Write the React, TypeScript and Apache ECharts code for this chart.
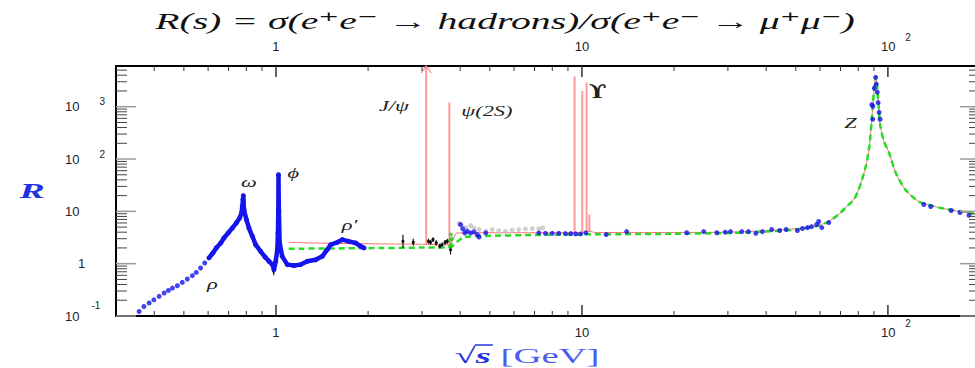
import { useEffect, useRef } from "react";
import * as echarts from "echarts";

// Axis ranges (√s in GeV, R dimensionless)
const X_MIN = 0.3;
const X_MAX = 200;
const Y_MIN = 0.1;
const Y_MAX = 6000;

// Tick layout: decades and the in-between multiples
const X_DECADES = [0.1, 1, 10, 100];
const Y_DECADES = [0.1, 1, 10, 100, 1000];
const MINOR_MULT = [2, 3, 4, 5, 6, 7, 8, 9];

// ρ tail below 0.6 GeV, sparse points
const RHO_TAIL: number[][] = [
  [0.357, 0.122], [0.37, 0.152], [0.385, 0.177], [0.399, 0.204], [0.415, 0.237],
  [0.431, 0.275], [0.445, 0.308], [0.459, 0.342], [0.476, 0.379], [0.494, 0.439],
  [0.513, 0.509], [0.533, 0.589], [0.549, 0.681], [0.567, 0.827], [0.585, 1.03],
];

// ρ/ω peak, φ peak and ρ′ region, densely measured
const LOW_DENSE: number[][] = [
  [0.604, 1.29], [0.622, 1.6], [0.638, 2.0], [0.66, 2.49], [0.676, 3.1], [0.698, 3.87],
  [0.72, 4.8], [0.742, 6.0], [0.761, 7.5], [0.772, 9.4], [0.776, 12.5], [0.78, 16.8],
  [0.782, 20], [0.786, 10.8], [0.8, 7.0], [0.816, 4.8], [0.837, 3.34], [0.858, 2.31],
  [0.891, 1.72], [0.921, 1.34], [0.949, 1.11], [0.973, 0.96], [0.985, 0.77], [0.998, 1.11],
  [1.01, 1.85], [1.015, 3.87], [1.018, 10.8], [1.019, 50], [1.022, 10], [1.028, 2.49],
  [1.048, 1.38], [1.089, 0.96], [1.145, 0.92], [1.204, 0.96], [1.266, 1.11], [1.348, 1.19],
  [1.417, 1.38], [1.47, 1.85], [1.51, 2.31], [1.586, 2.56], [1.647, 2.88], [1.73, 2.67],
  [1.82, 2.49], [1.89, 2.15], [1.94, 2.0],
];

// Inclusive measurements between open charm threshold and the b region
const GRAY_PTS: number[][] = [
  [3.97, 5.84], [4.06, 5.18], [4.18, 4.82], [4.33, 5.34], [4.44, 4.82], [4.61, 4.48],
  [4.85, 4.15], [5.09, 4.48], [5.35, 4.28], [5.62, 4.15], [5.91, 4.35], [6.22, 4.48],
  [6.54, 4.62], [6.88, 4.68], [7.23, 4.68], [7.45, 4.82],
];

const BLUE_MID: number[][] = [
  [4.01, 5.6], [4.08, 4.62], [4.14, 3.87], [4.22, 4.15], [4.33, 3.87], [4.44, 4.05],
  [4.55, 3.6], [4.61, 3.24], [4.85, 3.87], [7.23, 3.87], [7.6, 3.8], [8.0, 3.8],
  [8.4, 3.8], [8.83, 3.75], [9.2, 3.75], [9.54, 3.7], [9.9, 3.7], [10.3, 3.87],
];

// High-energy measurements up to and beyond the Z pole
const BLUE_HIGH: number[][] = [
  [12.0, 3.6], [14.0, 4.1], [22.0, 3.9], [25.0, 4.1], [27.6, 3.9], [29.4, 4.0],
  [30.6, 4.1], [33.3, 4.1], [35.0, 4.1], [37.0, 3.8], [38.9, 4.1], [41.7, 4.5],
  [44.3, 4.3], [46.5, 4.5], [50.6, 4.3], [52.6, 4.7], [54.6, 4.9], [56.3, 5.1],
  [58.5, 5.6], [59.4, 6.4], [60.8, 4.9], [64.1, 6.1],
  [88.6, 1100], [89.2, 575], [89.3, 1020], [90.3, 2250], [91.2, 3650], [91.6, 2700],
  [92.3, 1900], [92.9, 1200], [93.6, 780], [94.3, 575],
  [131, 13.5], [138, 12.4], [161, 10.4], [172, 9.5], [184, 8.4],
];

// Points with error bars: [√s, R, low, high]
const BLACK_PTS: number[][] = [
  [0.983, 0.72, 0.6, 0.8],
  [2.6, 2.68, 2.0, 3.56], [2.81, 2.56, 2.2, 3.0], [3.15, 2.68, 2.4, 3.0], [3.2, 2.56, 2.3, 2.85],
  [3.26, 2.88, 2.6, 3.2], [3.34, 2.49, 2.2, 2.8], [3.43, 2.15, 1.95, 2.4], [3.49, 2.31, 2.1, 2.55],
  [3.57, 2.56, 2.3, 2.85], [3.63, 2.68, 2.4, 3.0], [3.72, 1.85, 1.5, 2.2],
];

const GREEN_PTS: number[][] = [
  [3.7, 2.1], [3.71, 2.8], [3.73, 3.6], [3.74, 2.3], [3.76, 3.0],
];

// Z line shape shared by both model curves
const Z_SHAPE: number[][] = [
  [60, 5.4], [64, 6.4], [69, 8.7], [73, 12], [77.5, 17], [80, 25], [82.4, 41], [85, 80],
  [87, 175], [88.6, 575], [89.3, 1100], [90.3, 2400], [91.2, 3700], [91.9, 3000],
  [92.8, 1500], [93.6, 800], [94.3, 450], [97, 220], [100.8, 133], [106, 55], [114, 26],
  [126, 15.5], [147, 11.8], [180, 9.5], [200, 8.8],
];

// Continuum with resonances (red) below the Z
const RED_CONT: number[][] = [
  [1.1, 2.55], [1.5, 2.45], [2.0, 2.4], [3.0, 2.35], [3.6, 2.3], [3.72, 2.35], [3.8, 3.0],
  [3.9, 3.85], [5, 3.9], [9, 3.9], [10, 3.95], [10.58, 4.2], [11, 3.95], [15, 3.95],
  [20, 3.95], [30, 4.0], [40, 4.25], [50, 4.65], [55, 5.0], [60, 5.5],
];

// Naive quark-parton model (green) below the Z
const GREEN_QCD: number[][] = [
  [1.1, 1.93], [2, 1.98], [3, 2.03], [3.6, 2.05], [3.75, 2.1], [3.9, 2.6], [4.1, 3.2],
  [4.5, 3.35], [5, 3.4], [7, 3.55], [10, 3.63], [15, 3.68], [20, 3.72], [30, 3.85],
  [40, 4.1], [50, 4.5], [55, 4.9],
];

// Narrow resonances: J/ψ, ψ(2S), Υ(1S), Υ(2S), Υ(3S), Υ(4S)
const SPIKE_M = [3.097, 3.686, 9.46, 10.023, 10.355, 10.58];
const SPIKE_BASE = [2.3, 2.3, 3.9, 3.95, 3.95, 4.0];
const SPIKE_TOP = [20000, 1200, 3800, 2000, 2900, 8.7];

// Resonance names
const ANNOT_TEXT = ["ρ", "ω", "ϕ", "ρ′", "J/ψ", "ψ(2S)", "ϒ", "Z"];
const ANNOT_X = [0.62, 0.816, 1.14, 1.74, 2.43, 4.89, 11.25, 75.4];
const ANNOT_R = [0.405, 36, 53, 5.35, 1018, 816, 1930, 481];

const TITLE = "R(s) = σ(e⁺e⁻ → hadrons)/σ(e⁺e⁻ → μ⁺μ⁻)";

const SANS = '"Liberation Sans", Arial, sans-serif';
const SERIF = '"Liberation Serif", "DejaVu Serif", serif';
const BLUE = "#1414ee";

function decadeOf(v: number): number | null {
  const l = Math.log10(v);
  const e = Math.round(l);
  return Math.abs(l - e) < 1e-6 ? e : null;
}

function measure(text: string, font: string): number {
  const ctx = document.createElement("canvas").getContext("2d");
  if (!ctx) return text.length * 10;
  ctx.font = font;
  return ctx.measureText(text).width;
}

function buildTicks() {
  const items: number[][] = [];
  const inX = (v: number) => v > X_MIN * 1.0001 && v < X_MAX * 0.9999;
  const inY = (v: number) => v >= Y_MIN * 0.9999 && v < Y_MAX * 0.9999;
  X_DECADES.forEach((d) => {
    if (inX(d)) items.push([d, Y_MIN, 0, 1]);
    MINOR_MULT.forEach((m) => {
      const v = d * m;
      if (inX(v)) items.push([v, Y_MIN, 0, 0]);
    });
  });
  Y_DECADES.forEach((d) => {
    if (inY(d)) items.push([X_MIN, d, 1, 1]);
    MINOR_MULT.forEach((m) => {
      const v = d * m;
      if (inY(v)) items.push([X_MIN, v, 1, 0]);
    });
  });
  return items;
}

export default function App() {
  const ref = useRef<HTMLDivElement>(null);

  useEffect(() => {
    if (!ref.current) return;
    const chart = echarts.init(ref.current, undefined, { renderer: "svg" });

    const titleFont = `italic 23px ${SERIF}`;
    const titleScale = 700 / measure(TITLE, titleFont);

    // axis title "√s [GeV]" — stretched to its slot, with a vinculum over s
    const qFont = `bold 22px ${SERIF}`;
    const vFont = `italic bold 22px ${SERIF}`;
    const uFont = `22px ${SERIF}`;
    const wq = measure("√", qFont);
    const wv = measure("s", vFont);
    const wu = measure(" [GeV]", uFont);
    const nameScale = 145 / (wq + wv + wu);
    const nameLeft = 527 - 72.5;
    const barX1 = nameLeft + wq * nameScale - 1;
    const barX2 = nameLeft + (wq + wv) * nameScale + 2;

    const xLabel = (v: number) => {
      const e = decadeOf(v);
      if (e === null) return "";
      if (e === 0) return "{b|1}";
      if (e === 1) return "{b|10}";
      return `{bp|10}{s|${e}}`;
    };
    const yLabel = (v: number) => {
      const e = decadeOf(v);
      if (e === null) return "";
      if (e === 0) return "{one|1}";
      if (e === 1) return "{b|10}";
      if (e < 0) return `{b|10}{neg|${e}}`;
      return `{b|10}{s|${e}}`;
    };
    const baseLbl = { fontFamily: SANS, fontSize: 13, color: "#222", lineHeight: 30 };
    const supLbl = { fontFamily: SANS, fontSize: 10, color: "#222", lineHeight: 11 };
    const xRich = {
      b: baseLbl,
      bp: { ...baseLbl, padding: [0, 0, 0, 16] },
      s: { ...supLbl, padding: [0, 0, 18, 10] },
    };
    const yRich = {
      b: baseLbl,
      one: { ...baseLbl, padding: [0, 0, 0, 13] },
      s: { ...supLbl, padding: [0, 0, 10, 20] },
      neg: { ...supLbl, padding: [0, 0, 22, 12] },
    };

    const logX = {
      type: "log" as const,
      logBase: 10,
      min: X_MIN,
      max: X_MAX,
      axisLine: { show: false },
      axisTick: { show: false },
      splitLine: { show: false },
    };

    const option: any = {
      animation: false,
      backgroundColor: "#fff",
      grid: {
        left: 116,
        top: 66,
        width: 864,
        height: 250,
        show: true,
        borderColor: "#000",
        borderWidth: 2,
        backgroundColor: "transparent",
        containLabel: false,
        outerBoundsMode: "none",
      },
      xAxis: [
        {
          ...logX,
          position: "bottom",
          axisLabel: { formatter: xLabel, rich: xRich, margin: 1 },
        },
        {
          ...logX,
          position: "top",
          axisLabel: { formatter: xLabel, rich: xRich, margin: 5 },
        },
      ],
      yAxis: {
        type: "log",
        logBase: 10,
        min: Y_MIN,
        max: Y_MAX,
        axisLine: { show: false },
        axisTick: { show: false },
        splitLine: { show: false },
        axisLabel: { formatter: yLabel, rich: yRich, margin: 51, align: "left" },
      },
      graphic: [
        {
          type: "text",
          x: 505,
          y: 21,
          scaleX: titleScale,
          style: {
            text: TITLE,
            font: titleFont,
            fill: "#111",
            align: "center",
            verticalAlign: "middle",
          },
        },
        {
          type: "text",
          x: 32,
          y: 191,
          scaleX: 1.8,
          style: {
            text: "R",
            fontFamily: SERIF,
            fontSize: 21,
            fontStyle: "italic",
            fontWeight: "bold",
            fill: "#2233dd",
            align: "center",
            verticalAlign: "middle",
          },
        },
        {
          type: "text",
          x: 527,
          y: 356,
          scaleX: nameScale,
          style: {
            text: "{q|√}{v|s}{u| [GeV]}",
            align: "center",
            verticalAlign: "middle",
            rich: {
              q: { fontFamily: SERIF, fontSize: 22, fontWeight: "bold", fill: "#2233dd" },
              v: { fontFamily: SERIF, fontSize: 22, fontStyle: "italic", fontWeight: "bold", fill: "#2233dd" },
              u: { fontFamily: SERIF, fontSize: 22, fill: "#4a5cf0" },
            },
          },
        },
        {
          type: "line",
          shape: { x1: barX1, y1: 345, x2: barX2, y2: 345 },
          style: { stroke: "#2233dd", lineWidth: 1.5 },
        },
      ],
      series: [
        {
          name: "continuum",
          type: "line",
          data: RED_CONT.concat(Z_SHAPE),
          symbol: "none",
          smooth: 0.2,
          lineStyle: { color: "#ff6f6f", width: 1 },
          z: 2,
        },
        {
          name: "resonances",
          type: "custom",
          data: SPIKE_M.map((m, i) => [m, SPIKE_BASE[i], SPIKE_TOP[i]]),
          encode: { x: 0, y: [1, 2] },
          z: 2,
          renderItem: (_p: any, api: any) => {
            const m = api.value(0);
            const top = api.value(2);
            const p0 = api.coord([m, api.value(1)]);
            const p1 = api.coord([m, Math.min(top, Y_MAX)]);
            const children: any[] = [
              {
                type: "line",
                shape: { x1: p0[0], y1: p0[1], x2: p1[0], y2: p1[1] },
                style: { stroke: "#ff9a9a", lineWidth: 2 },
              },
            ];
            if (top > Y_MAX) {
              children.push({
                type: "polyline",
                shape: { points: [[p1[0] - 5, p1[1] + 7], [p1[0], p1[1]], [p1[0] + 5, p1[1] + 7]] },
                style: { stroke: "#ff8080", lineWidth: 1.2, fill: "none" },
              });
            }
            return { type: "group", children };
          },
        },
        {
          name: "gray",
          type: "scatter",
          data: GRAY_PTS,
          symbolSize: 5,
          itemStyle: { color: "#c4c4c4" },
          z: 3,
        },
        {
          name: "parton model",
          type: "line",
          data: GREEN_QCD.concat(Z_SHAPE),
          symbol: "none",
          smooth: 0.2,
          lineStyle: { color: "#22dd22", width: 2.5, type: [6, 4] },
          z: 4,
        },
        {
          name: "errors",
          type: "custom",
          data: BLACK_PTS,
          encode: { x: 0, y: [1, 2, 3] },
          z: 5,
          renderItem: (_p: any, api: any) => {
            const x = api.value(0);
            const c = api.coord([x, api.value(1)]);
            const lo = api.coord([x, api.value(2)]);
            const hi = api.coord([x, api.value(3)]);
            return {
              type: "group",
              children: [
                { type: "line", shape: { x1: lo[0], y1: lo[1], x2: hi[0], y2: hi[1] }, style: { stroke: "#111", lineWidth: 1.2 } },
                { type: "circle", shape: { cx: c[0], cy: c[1], r: 1.6 }, style: { fill: "#111" } },
              ],
            };
          },
        },
        {
          name: "low dense",
          type: "line",
          data: LOW_DENSE,
          symbol: "circle",
          symbolSize: 5,
          showSymbol: true,
          itemStyle: { color: BLUE },
          lineStyle: { color: BLUE, width: 4.5 },
          z: 6,
        },
        {
          name: "rho tail",
          type: "scatter",
          data: RHO_TAIL,
          symbolSize: 5,
          itemStyle: { color: BLUE },
          z: 6,
        },
        {
          name: "mid",
          type: "scatter",
          data: BLUE_MID,
          symbolSize: 5,
          itemStyle: { color: BLUE },
          z: 6,
        },
        {
          name: "high",
          type: "scatter",
          data: BLUE_HIGH,
          symbolSize: 5,
          itemStyle: { color: BLUE },
          z: 6,
        },
        {
          name: "green pts",
          type: "scatter",
          data: GREEN_PTS,
          symbolSize: 4,
          itemStyle: { color: "#22cc22" },
          z: 6,
        },
        {
          name: "labels",
          type: "custom",
          data: ANNOT_X.map((x, i) => [x, ANNOT_R[i], i]),
          encode: { x: 0, y: 1 },
          z: 10,
          renderItem: (_p: any, api: any) => {
            const i = api.value(2) as number;
            const p = api.coord([api.value(0), api.value(1)]);
            const upright = ANNOT_TEXT[i] === "ϒ";
            return {
              type: "text",
              x: p[0],
              y: p[1],
              scaleX: upright ? 1.3 : 1.6,
              style: {
                text: ANNOT_TEXT[i],
                fontFamily: upright ? '"DejaVu Serif", serif' : SERIF,
                fontSize: upright ? 18 : 14,
                fontStyle: upright ? "normal" : "italic",
                fontWeight: upright ? "bold" : "normal",
                fill: "#222",
                align: "center",
                verticalAlign: "middle",
              },
            };
          },
        },
        {
          name: "ticks",
          type: "custom",
          data: buildTicks(),
          encode: { x: 0, y: 1 },
          z: 10,
          clip: false,
          renderItem: (_p: any, api: any) => {
            const kind = api.value(2);
            const major = api.value(3) === 1;
            if (kind === 0) {
              const v = api.value(0);
              const b = api.coord([v, Y_MIN]);
              const t = api.coord([v, Y_MAX]);
              const len = major ? 11 : 5;
              const st = { stroke: "#333", lineWidth: major ? 1.5 : 1 };
              return {
                type: "group",
                children: [
                  { type: "line", shape: { x1: b[0], y1: b[1], x2: b[0], y2: b[1] - len }, style: st },
                  { type: "line", shape: { x1: t[0], y1: t[1], x2: t[0], y2: t[1] + len }, style: st },
                ],
              };
            }
            const v = api.value(1);
            const l = api.coord([X_MIN, v]);
            const r = api.coord([X_MAX, v]);
            const len = major ? 20 : 11;
            const st = { stroke: major ? "#9a9a9a" : "#444", lineWidth: major ? 1.5 : 1 };
            return {
              type: "group",
              children: [
                { type: "line", shape: { x1: l[0], y1: l[1], x2: l[0] + len, y2: l[1] }, style: st },
                { type: "line", shape: { x1: r[0], y1: r[1], x2: r[0] - len, y2: r[1] }, style: st },
              ],
            };
          },
        },
      ],
    };

    chart.setOption(option);
    return () => chart.dispose();
  }, []);

  return (
    <div
      ref={ref}
      style={{ position: "fixed", left: 0, top: 0, width: 975, height: 368, background: "#fff" }}
    />
  );
}
